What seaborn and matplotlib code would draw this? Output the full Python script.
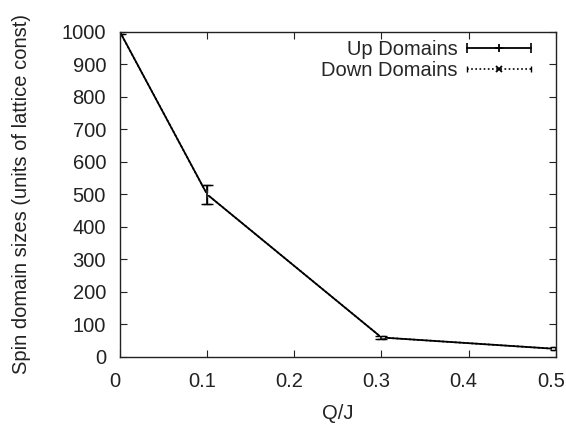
import numpy as np
import pandas as pd
import matplotlib
matplotlib.use("Agg")
import matplotlib.pyplot as plt
import matplotlib.transforms as mtransforms
import seaborn as sns
from matplotlib.lines import Line2D
from matplotlib.legend_handler import HandlerLine2D, HandlerTuple

# data
qj = [0.0, 0.1, 0.3, 0.5]
up_sizes = [1000, 500, 60, 25]
up_err = [5, 29, 5, 5]
down_sizes = [1000, 500, 60, 25]
down_err = [5, 29, 5, 5]

df = pd.DataFrame({"Q/J": qj, "up": up_sizes, "down": down_sizes})

sns.set_style("ticks")
plt.rcParams["font.family"] = ["Liberation Sans", "DejaVu Sans"]
fs = 14.5

fig = plt.figure(figsize=(5.66, 4.26), dpi=100)
ax = fig.add_axes([0.212, 0.162, 0.77, 0.763])

# down domains: dotted with x markers
sns.lineplot(data=df, x="Q/J", y="down", ax=ax, color="black", lw=1.2,
             linestyle=(0, (1, 1.5)), marker="x", markersize=5, mew=1.3)
ax.errorbar(qj, down_sizes, yerr=down_err, fmt="none", ecolor="black",
            elinewidth=1, capsize=3)
# up domains: solid with + markers and error bars
sns.lineplot(data=df, x="Q/J", y="up", ax=ax, color="black", lw=1.3,
             marker="+", markersize=6, mew=1.3)
ax.errorbar(qj, up_sizes, yerr=up_err, fmt="none", ecolor="black",
            elinewidth=1.2, capsize=4)

ax.set_xlim(0, 0.5)
ax.set_ylim(0, 1000)
ax.set_xticks([0, 0.1, 0.2, 0.3, 0.4, 0.5])
ax.set_xticklabels(["0", "0.1", "0.2", "0.3", "0.4", "0.5"])
ax.set_yticks(np.arange(0, 1001, 100))
ax.tick_params(direction="in", top=True, right=True, length=5, width=0.8,
               labelsize=fs, colors="#222222")
ax.tick_params(axis="y", pad=10)
ax.tick_params(axis="x", pad=11)
# gnuplot puts the x labels a little left of the ticks
shift = mtransforms.ScaledTranslation(-5 / 100, 0, fig.dpi_scale_trans)
for lab in ax.get_xticklabels():
    lab.set_transform(lab.get_transform() + shift)
for s in ax.spines.values():
    s.set_visible(True)
    s.set_linewidth(1.0)
    s.set_color("#222222")

ax.set_xlabel("Q/J", fontsize=fs, color="#222222", labelpad=9)
ax.set_ylabel("Spin domain sizes (units of lattice const)", fontsize=fs,
              color="#222222", labelpad=22)

# gnuplot-like legend samples
up_line = Line2D([], [], color="black", lw=1.3)
up_caps = Line2D([], [], color="black", lw=0, marker="|", markersize=7, mew=1.2)
up_mid = Line2D([], [], color="black", lw=0, marker="+", markersize=6, mew=1.3)
dn_line = Line2D([], [], color="black", lw=1.2, linestyle=(0, (1, 1.5)))
dn_caps = Line2D([], [], color="black", lw=0, marker="|", markersize=5, mew=1)
dn_mid = Line2D([], [], color="black", lw=0, marker="x", markersize=5, mew=1.3)

hmap = {
    up_caps: HandlerLine2D(numpoints=2, marker_pad=0),
    up_mid: HandlerLine2D(numpoints=1),
    dn_caps: HandlerLine2D(numpoints=2, marker_pad=0),
    dn_mid: HandlerLine2D(numpoints=1),
    tuple: HandlerTuple(ndivide=1, pad=0),
}
ax.legend([(up_line, up_caps, up_mid), (dn_line, dn_caps, dn_mid)],
          ["Up Domains", "Down Domains"], handler_map=hmap,
          loc="upper right", bbox_to_anchor=(0.961, 1.0), frameon=False,
          markerfirst=False, handlelength=3.15, handletextpad=0.5,
          labelspacing=0.1, borderaxespad=0, fontsize=fs)

fig.savefig("out.png", dpi=100)
